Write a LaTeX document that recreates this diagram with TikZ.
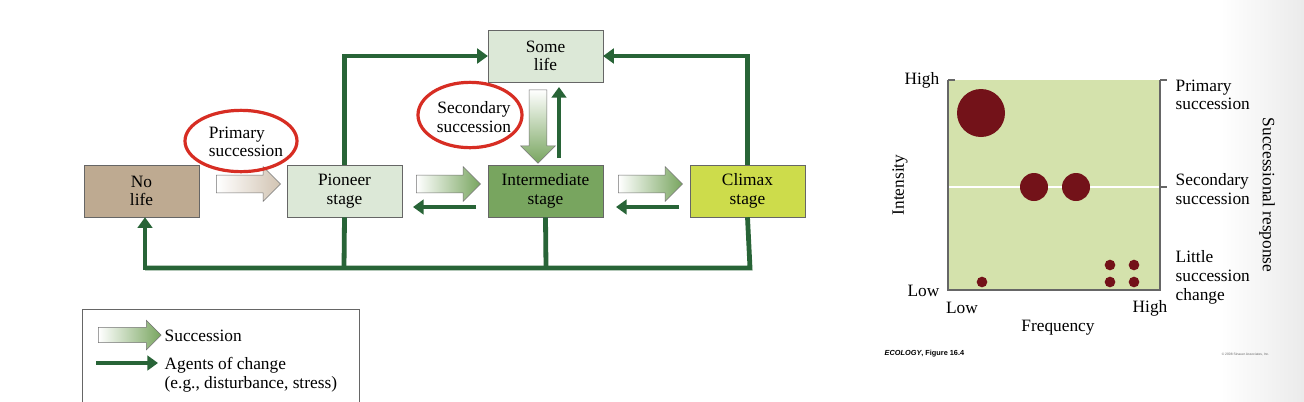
\documentclass[tikz,border=0pt]{standalone}
\usepackage{fontspec}
\setmainfont{Liberation Serif}
\newfontfamily\sansf{Liberation Sans}
\usetikzlibrary{shapes.arrows,arrows.meta,shapes.geometric}
\definecolor{dg}{RGB}{40,100,55}
\definecolor{boxbrown}{RGB}{190,170,145}
\definecolor{boxlight}{RGB}{220,232,215}
\definecolor{boxmid}{RGB}{120,165,95}
\definecolor{boxclimax}{RGB}{205,220,75}
\definecolor{plotbg}{RGB}{212,226,172}
\definecolor{dot}{RGB}{115,18,25}
\definecolor{ered}{RGB}{215,45,35}
\begin{document}
\begin{tikzpicture}[x=0.75pt,y=-0.75pt,font=\fontsize{13}{14}\selectfont,
  box/.style={draw=black!60,thin,minimum width=86pt,minimum height=39pt,align=center,inner sep=1pt},
  agent/.style={draw=dg,line width=3.6pt,-{Triangle[length=8pt,width=11pt]}},
  succbase/.style={single arrow,draw=black!55,thin,minimum height=48pt,minimum width=26pt,single arrow head extend=3pt,inner sep=3pt},
  succ/.style={succbase,left color=white,right color=boxmid},
  red/.style={draw=ered,line width=2.4pt,ellipse},
  dotc/.style={circle,fill=dot,inner sep=0pt}]
\useasboundingbox (0,0) rectangle (1304,401);
\fill[white] (0,0) rectangle (1304,401);
\shade[left color=white,right color=black!8] (1220,0) rectangle (1304,401);
% boxes
\node[box,fill=boxbrown] (no) at (141.5,191) {No\\life};
\node[box,fill=boxlight] (pi) at (344.5,191) {Pioneer\\stage};
\node[box,fill=boxmid] (in) at (545.5,191) {Intermediate\\stage};
\node[box,fill=boxclimax] (cl) at (747.5,191) {Climax\\stage};
\node[box,fill=boxlight] (so) at (545.5,56) {Some\\life};
% succession block arrows
\node[succbase,left color=white,right color=boxbrown!70!white] (s1) at (244,184) {};
\node[succ] (s2) at (444,184) {};
\node[succ] (s3) at (646,184) {};
\node[succbase,shape border rotate=270,minimum height=55pt,top color=white,bottom color=boxmid] (s4) at (538,122) {};
% thin return arrows
\coordinate (a1) at (476,207); \coordinate (b1) at (413,207);
\draw[agent] (a1) -- (b1);
\coordinate (a2) at (679,207); \coordinate (b2) at (616,207);
\draw[agent] (a2) -- (b2);
\coordinate (u1) at (559,158); \coordinate (u2) at (559,87);
\draw[agent] (u1) -- (u2);
% top loops
\draw[agent] (pi.north) |- (so.west);
\draw[agent] (cl.north) |- (so.east);
% bottom loop
\coordinate (bl) at (145,268);
\draw[dg,line width=3.6pt] (pi.south) -- (344,268);
\draw[dg,line width=3.6pt] (in.south) -- (546,268);
\draw[dg,line width=3.6pt,line join=miter] (cl.south) -- (750,268) -- (bl);
\draw[agent,line join=miter] (145,270) -- (no.south-|145,0);
% labels with red ellipses
\node[align=left] (pt) at (246,142) {Primary\\succession};
\node[red,minimum width=84pt,minimum height=46pt] (pe) at (241,141) {};
\node[align=center] (st) at (474,117) {Secondary\\succession};
\node[red,minimum width=78pt,minimum height=49pt] (se) at (470,115) {};
% legend
\node[draw=black!60,thin,minimum width=208pt,minimum height=70pt] (lg) at (221,356) {};
\node[succ,minimum height=47pt,minimum width=22pt] (ls) at (126,335) {};
\node[anchor=west] (lt1) at (160,336) {Succession};
\coordinate (la) at (96,363); \coordinate (lb) at (158,363);
\draw[agent,line width=2.8pt] (la) -- (lb);
\node[anchor=north west,align=left] (lt2) at (160,353) {Agents of change\\(e.g., disturbance, stress)};
% plot
\fill[plotbg] (948,80) rectangle (1160,290);
\draw[white,line width=1pt] (948,187) -- (1160,187);
\draw[black!60,line width=1.2pt] (948,80) -- (948,290) -- (1160,290) -- (1160,80);
\draw[black!60,line width=1.2pt] (948,80) -- (955,80);
\draw[black!60,line width=1.2pt] (1160,80) -- (1167,80);
\draw[black!60,line width=1.2pt] (1160,187) -- (1167,187);
\node[dotc,minimum size=36pt] (c1) at (981,113) {};
\node[dotc,minimum size=21pt] (c2) at (1034,187) {};
\node[dotc,minimum size=21pt] (c3) at (1076,187) {};
\node[dotc,minimum size=8pt] (c4) at (982,282) {};
\node[dotc,minimum size=8pt] (c5) at (1110,265) {};
\node[dotc,minimum size=8pt] (c6) at (1134,265) {};
\node[dotc,minimum size=8pt] (c7) at (1110,282) {};
\node[dotc,minimum size=8pt] (c8) at (1134,282) {};
\node[anchor=east] (yh) at (944,80) {High};
\node[anchor=east] (yl) at (944,291) {Low};
\node[rotate=90] (yt) at (900,185) {Intensity};
\node (xl) at (962,308) {Low};
\node (xh) at (1150,308) {High};
\node (xt) at (1058,328) {Frequency};
\node[anchor=north west,align=left] (r1) at (1171,75) {Primary\\succession};
\node[anchor=north west,align=left] (r2) at (1171,169) {Secondary\\succession};
\node[anchor=north west,align=left] (r3) at (1171,246) {Little\\succession\\change};
\node[rotate=-90] (rt) at (1267,195) {Successional response};
\node[anchor=west,font=\sansf\fontsize{5.5}{6}\selectfont\bfseries] (fig) at (880,354) {\itshape ECOLOGY\upshape, Figure 16.4};
\node[anchor=east,font=\sansf\fontsize{2.5}{3}\selectfont,text=black!60] (cp) at (1274,354) {© 2008 Sinauer Associates, Inc.};
\end{tikzpicture}
\end{document}
